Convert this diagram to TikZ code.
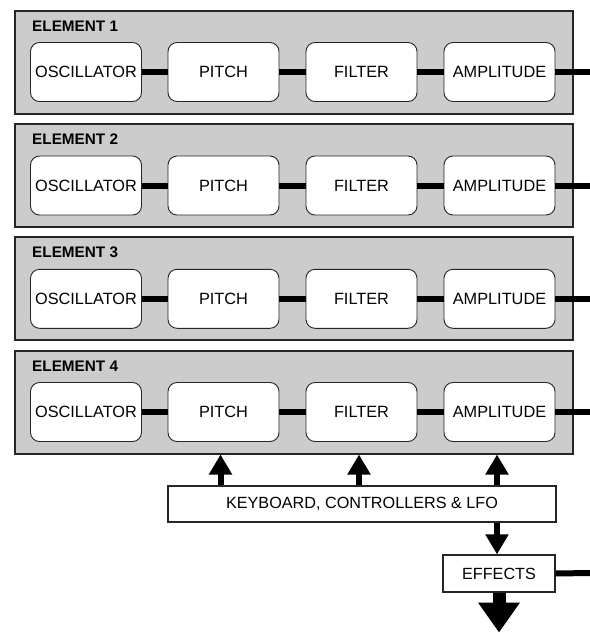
\documentclass[tikz,border=0pt]{standalone}
\usepackage{fontspec}
\setmainfont{Liberation Sans}
\usetikzlibrary{arrows.meta}
\begin{document}
\begin{tikzpicture}[x=1pt,y=-1pt,
  element/.style={draw=black!85, line width=2pt, fill=gray!40, minimum width=558pt, minimum height=103pt, inner sep=0pt, anchor=north west},
  module/.style={draw=black!85, line width=0.9pt, fill=white, rounded corners=9pt, minimum width=111pt, minimum height=59pt, inner sep=0pt, font=\fontsize{16.3}{19}\selectfont},
  elabel/.style={anchor=base west, inner sep=0pt, font=\bfseries\fontsize{15.3}{18}\selectfont},
  plainbox/.style={draw=black!85, line width=1.2pt, fill=white, inner sep=0pt, font=\fontsize{16.2}{19}\selectfont},
  link/.style={line width=6pt},
  ctrl/.style={line width=6pt, -{Triangle[length=20pt,width=22pt]}},
  bigout/.style={line width=13pt, -{Triangle[length=30pt,width=40pt]}}]
\useasboundingbox (0,0) rectangle (590,633);
\foreach \i/\t in {1/9.5, 2/123, 3/236.3, 4/349.5}{
  \node[element] (e\i) at (13.5,\t) {};
  \node[elabel] (l\i) at (32,\t+21.5) {ELEMENT \i};
  \node[module] (o\i) at (86,\t+62.5) {OSCILLATOR};
  \node[module] (p\i) at (223.5,\t+62.5) {PITCH};
  \node[module] (f\i) at (361.5,\t+62.5) {FILTER};
  \node[module] (a\i) at (499.5,\t+62.5) {AMPLITUDE};
  \coordinate (out\i) at (590,\t+62.5);
  \draw[link] (o\i.east) -- (p\i.west);
  \draw[link] (p\i.east) -- (f\i.west);
  \draw[link] (f\i.east) -- (a\i.west);
  \draw[link] (a\i.east) -- (out\i);
}
\node[plainbox, minimum width=388pt, minimum height=36pt] (kb) at (362,504) {KEYBOARD, CONTROLLERS \& LFO};
\node[plainbox, minimum width=112pt, minimum height=37pt] (fx) at (499,573.5) {EFFECTS};
\coordinate (fxout) at (590,573);
\coordinate (bottom) at (499,632.5);
\draw[ctrl] (kb.north -| 220.5,0) -- (e4.south -| 220.5,0);
\draw[ctrl] (kb.north -| 359,0) -- (e4.south -| 359,0);
\draw[ctrl] (kb.north -| 497,0) -- (e4.south -| 497,0);
\draw[ctrl] (kb.south -| 497,0) -- (fx.north -| 497,0);
\draw[link] (fx.east) -- (fxout);
\draw[bigout] (fx.south) -- (bottom);
\end{tikzpicture}
\end{document}
